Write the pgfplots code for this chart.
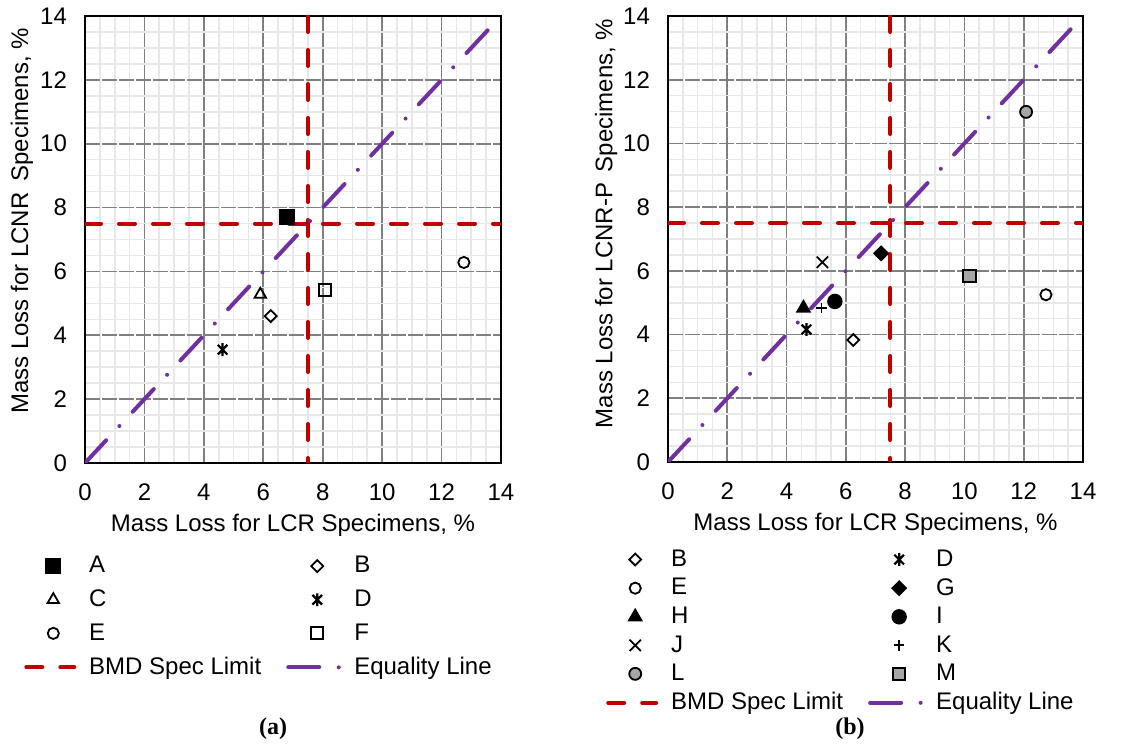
\documentclass[border=0pt]{standalone}
\usepackage{fontspec}
\setmainfont{Liberation Sans}
\newfontfamily\timesfont{Liberation Serif}
\usepackage{pgfplots}
\pgfplotsset{compat=1.18}

\definecolor{bmdred}{HTML}{C00000}
\definecolor{eqpurple}{HTML}{7030A0}
\definecolor{mgray}{HTML}{A6A6A6}
\definecolor{gridmajor}{HTML}{808080}
\definecolor{gridminor}{HTML}{E8E8E8}

\pgfdeclareplotmark{xast}{%
  \pgfpathmoveto{\pgfqpoint{0pt}{-\pgfplotmarksize}}%
  \pgfpathlineto{\pgfqpoint{0pt}{\pgfplotmarksize}}%
  \pgfpathmoveto{\pgfqpoint{-.75\pgfplotmarksize}{-.75\pgfplotmarksize}}%
  \pgfpathlineto{\pgfqpoint{.75\pgfplotmarksize}{.75\pgfplotmarksize}}%
  \pgfpathmoveto{\pgfqpoint{-.75\pgfplotmarksize}{.75\pgfplotmarksize}}%
  \pgfpathlineto{\pgfqpoint{.75\pgfplotmarksize}{-.75\pgfplotmarksize}}%
  \pgfusepathqstroke}

\pgfplotsset{
  myaxis/.style={
    scale only axis, width=208pt, height=223.5pt,
    xmin=0, xmax=14, ymin=0, ymax=14,
    xtick={0,2,...,14}, ytick={0,2,...,14},
    minor tick num=3,
    grid=both,
    major x grid style={gridmajor, line width=0.9pt},
    major y grid style={gridmajor, line width=0.9pt, dash pattern=on 7.5pt off 1pt},
    minor grid style={gridminor, line width=0.8pt},
    axis line style={black, line width=1pt},
    tick style={draw=none},
    /pgf/number format/assume math mode=true,
    tick label style={font=\fontsize{12}{14}\selectfont},
    xticklabel style={yshift=-7pt},
    yticklabel style={xshift=-5.5pt},
    label style={font=\fontsize{12}{14}\selectfont},
    xlabel style={at={(axis description cs:0.5,0)}, anchor=north, yshift=-22pt},
    legend style={draw=none, fill=none, inner sep=0pt, anchor=north west,
      font=\fontsize{12}{14}\selectfont, legend columns=2,
      /tikz/every odd column/.append style={column sep=4pt},
      /tikz/every even column/.append style={column sep=10.5pt}},
    legend cell align=left,
  },
  markleg/.style={legend image code/.code={\path (0pt,0pt) (26pt,0pt); \draw[##1] plot[only marks] coordinates {(14.5pt,0pt)};}},
  lineleg/.style={legend image code/.code={\draw[##1] (1pt,0pt) -- (25pt,0pt);}},
  eqleg/.style={legend image code/.code={\draw[##1] (0pt,0pt) -- (26pt,0pt);}},
  bmd/.style={bmdred, line width=2pt, line cap=round, dash pattern=on 8pt off 9pt},
  eql/.style={eqpurple, line width=2pt, line cap=round, dash pattern=on 15.5pt off 9.75pt on 0pt off 9.75pt},
  mk/.style={only marks, black, line width=0.9pt},
}

\begin{document}
\begin{tikzpicture}
\useasboundingbox (0,0) rectangle (571pt,374pt);

% ---------------- (a) ----------------
\begin{axis}[myaxis, at={(42.5pt,142.5pt)}, anchor=south west,
  xlabel={Mass Loss for LCR Specimens, \%},
  ylabel={Mass Loss for LCNR\hspace{2pt} Specimens, \%},
  ylabel style={at={(axis description cs:-0.1514,0.5414)}, anchor=center, rotate=0},
  legend style={at={(axis description cs:-0.149,-0.199)}, /tikz/row sep=3pt},
]
\addplot[bmd, forget plot] coordinates {(0,7.5) (14,7.5)};
\addplot[bmd, forget plot] coordinates {(7.5,14) (7.5,0)};
\addplot[eql, forget plot] coordinates {(0,0) (13.65,13.65)};

\addplot[mk, mark=square*, mark size=3.5pt, mark options={fill=black}, markleg] coordinates {(6.8,7.7)};
\addlegendentry{A}
\addplot[mk, mark=square, mark size=2.1pt, mark options={fill=white, rotate=45}, markleg] coordinates {(6.25,4.6)};
\addlegendentry{B}
\addplot[mk, mark=triangle, mark size=3.3pt, mark options={fill=white}, markleg] coordinates {(5.9,5.28)};
\addlegendentry{C}
\addplot[mk, mark=xast, mark size=3.2pt, line width=1.1pt, markleg] coordinates {(4.63,3.55)};
\addlegendentry{D}
\addplot[mk, mark=o, mark size=2.8pt, mark options={fill=white}, markleg] coordinates {(12.75,6.28)};
\addlegendentry{E}
\addplot[mk, mark=square, mark size=3pt, mark options={fill=white}, markleg] coordinates {(8.08,5.42)};
\addlegendentry{F}
\addlegendimage{bmd, lineleg}
\addlegendentry{BMD Spec Limit}
\addlegendimage{eql, eqleg}
\addlegendentry{Equality Line}
\end{axis}

% ---------------- (b) ----------------
\begin{axis}[myaxis, at={(334pt,143pt)}, anchor=south west, width=207.5pt, height=223pt,
  xlabel={Mass Loss for LCR Specimens, \%},
  ylabel={Mass Loss for LCNR-P\hspace{2pt} Specimens, \%},
  ylabel style={at={(axis description cs:-0.149,0.535)}, anchor=center, rotate=0},
  legend style={at={(axis description cs:-0.152,-0.187)}, /tikz/row sep=0.5pt},
]
\addplot[bmd, forget plot] coordinates {(0,7.5) (14,7.5)};
\addplot[bmd, forget plot] coordinates {(7.5,14) (7.5,0)};
\addplot[eql, forget plot] coordinates {(0,0) (13.8,13.8)};

\addplot[mk, mark=square, mark size=2.1pt, mark options={fill=white, rotate=45}, markleg] coordinates {(6.25,3.83)};
\addlegendentry{B}
\addplot[mk, mark=xast, mark size=3.2pt, line width=1.1pt, markleg] coordinates {(4.67,4.16)};
\addlegendentry{D}
\addplot[mk, mark=o, mark size=2.8pt, mark options={fill=white}, markleg] coordinates {(12.75,5.25)};
\addlegendentry{E}
\addplot[mk, mark=square*, mark size=2.4pt, mark options={fill=black, rotate=45}, markleg] coordinates {(7.19,6.55)};
\addlegendentry{G}
\addplot[mk, mark=triangle*, mark size=3.6pt, mark options={fill=black}, markleg] coordinates {(4.57,4.83)};
\addlegendentry{H}
\addplot[mk, mark=*, mark size=3.4pt, mark options={fill=black}, markleg] coordinates {(5.63,5.04)};
\addlegendentry{I}
\addplot[mk, mark=x, mark size=4pt, markleg] coordinates {(5.21,6.27)};
\addlegendentry{J}
\addplot[mk, mark=+, mark size=2.6pt, markleg] coordinates {(5.18,4.83)};
\addlegendentry{K}
\addplot[mk, mark=*, mark size=3pt, mark options={fill=mgray}, markleg] coordinates {(12.08,10.99)};
\addlegendentry{L}
\addplot[mk, mark=square*, mark size=3.1pt, mark options={fill=mgray}, markleg] coordinates {(10.17,5.84)};
\addlegendentry{M}
\addlegendimage{bmd, lineleg}
\addlegendentry{BMD Spec Limit}
\addlegendimage{eql, eqleg}
\addlegendentry{Equality Line}
\end{axis}

\node[font=\timesfont\bfseries\fontsize{12}{14}\selectfont] at (136.5pt,9.5pt) {(a)};
\node[font=\timesfont\bfseries\fontsize{12}{14}\selectfont] at (425pt,9.5pt) {(b)};
\end{tikzpicture}
\end{document}
